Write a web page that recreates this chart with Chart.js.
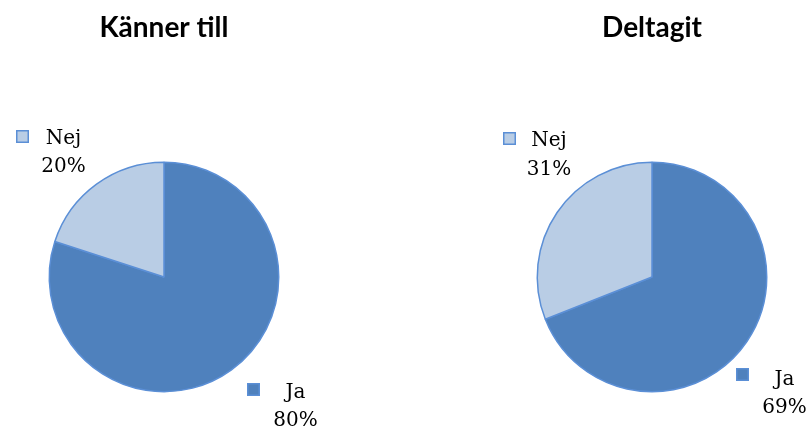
<!DOCTYPE html>
<html>
<head>
<meta charset="utf-8">
<script src="https://cdn.jsdelivr.net/npm/chart.js@4.4.0/dist/chart.umd.min.js"></script>
<style>
  html, body { margin: 0; padding: 0; background: #ffffff; }
  #wrap { position: relative; width: 810px; height: 428px; overflow: hidden; }
  canvas { position: absolute; top: 0; }
  #c1 { left: 0; }
  #c2 { left: 405px; }
</style>
</head>
<body>
<div id="wrap">
  <canvas id="c1" width="405" height="428"></canvas>
  <canvas id="c2" width="405" height="428"></canvas>
</div>
<script>
const categories = ['Ja', 'Nej'];
const kannerTill = [80, 20];
const deltagit = [69, 31];
const chartTitles = ['Känner till', 'Deltagit'];
const sliceColors = ['#4f81bd', '#b9cde5'];
const borderColor = '#5b8fd6';

// label layout (offsets from pie centre, px)
const labelLayouts = [
  { // Känner till
    Ja:  { tx: 131.5, b1: 121, b2: 149, mx: 83, my: 106 },
    Nej: { tx: -100.5, b1: -133, b2: -105, mx: -148, my: -147 }
  },
  { // Deltagit
    Ja:  { tx: 132.5, b1: 108, b2: 136, mx: 84, my: 91 },
    Nej: { tx: -103, b1: -131, b2: -102, mx: -149, my: -145 }
  }
];

const textPlugin = {
  id: 'textPlugin',
  afterDraw(chart, args, opts) {
    const ctx = chart.ctx;
    const meta = chart.getDatasetMeta(0);
    const arc0 = meta.data[0];
    const cx = arc0.x, cy = arc0.y;
    ctx.save();
    // title
    ctx.fillStyle = '#000000';
    ctx.font = 'bold 28px Lato';
    ctx.textAlign = 'center';
    ctx.textBaseline = 'alphabetic';
    ctx.fillText(opts.title, cx, 36.5);
    // labels
    const ds = chart.data.datasets[0];
    chart.data.labels.forEach((lab, i) => {
      const L = opts.layout[lab];
      // marker
      ctx.fillStyle = ds.backgroundColor[i];
      ctx.fillRect(cx + L.mx, cy + L.my, 13, 13);
      ctx.strokeStyle = borderColor;
      ctx.lineWidth = 1.5;
      ctx.strokeRect(cx + L.mx + 0.75, cy + L.my + 0.75, 11.5, 11.5);
      ctx.fillStyle = '#000000';
      ctx.font = '20px "DejaVu Serif"';
      ctx.textAlign = 'center';
      ctx.fillText(lab, cx + L.tx, cy + L.b1);
      ctx.fillText(ds.data[i] + '%', cx + L.tx, cy + L.b2);
    });
    ctx.restore();
  }
};

function makePie(id, values, title, layout, padding) {
  return new Chart(document.getElementById(id), {
    type: 'pie',
    data: {
      labels: categories,
      datasets: [{
        data: values,
        backgroundColor: sliceColors,
        borderColor: borderColor,
        borderWidth: 1.5,
        hoverOffset: 0
      }]
    },
    options: {
      responsive: false,
      animation: false,
      devicePixelRatio: 1,
      layout: { padding: padding },
      plugins: {
        legend: { display: false },
        tooltip: { enabled: false },
        title: { display: false },
        textPlugin: { title: title, layout: layout }
      }
    },
    plugins: [textPlugin]
  });
}

makePie('c1', kannerTill, chartTitles[0], labelLayouts[0],
  { left: 48.5, right: 125.5, top: 161.5, bottom: 35.5 });
makePie('c2', deltagit, chartTitles[1], labelLayouts[1],
  { left: 131.5, right: 42.5, top: 161.5, bottom: 35.5 });
</script>
</body>
</html>
